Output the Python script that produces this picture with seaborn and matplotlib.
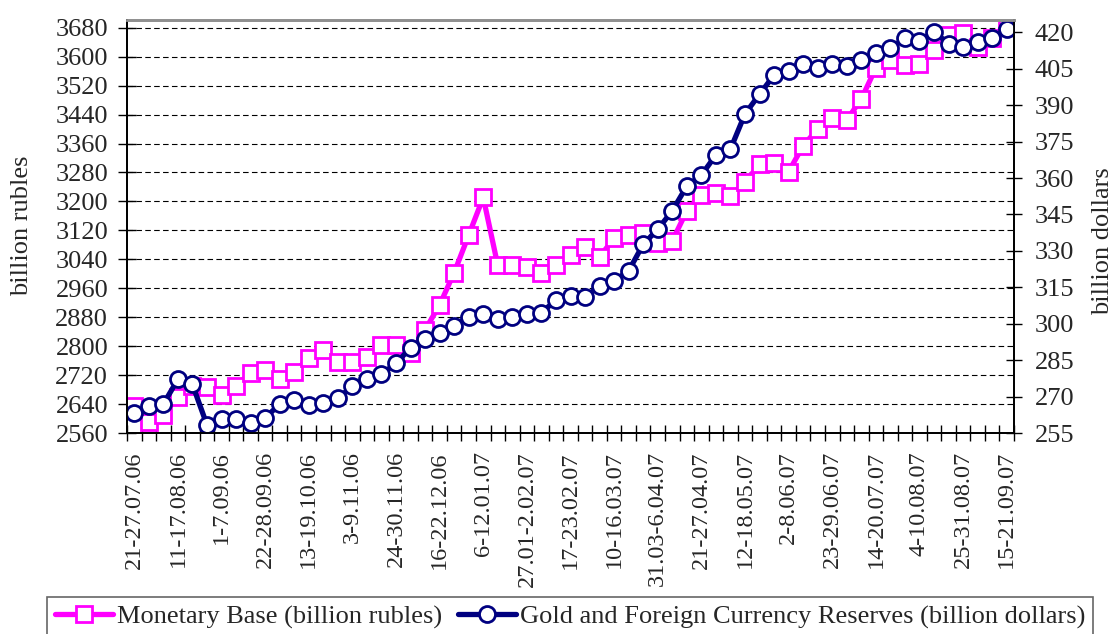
import matplotlib
matplotlib.use("Agg")
import numpy as np
import pandas as pd
import matplotlib.pyplot as plt
import seaborn as sns

# every third week is labelled on the axis
tick_labels = ["21-27.07.06", "11-17.08.06", "1-7.09.06", "22-28.09.06",
               "13-19.10.06", "3-9.11.06", "24-30.11.06", "16-22.12.06",
               "6-12.01.07", "27.01-2.02.07", "17-23.02.07", "10-16.03.07",
               "31.03-6.04.07", "21-27.04.07", "12-18.05.07", "2-8.06.07",
               "23-29.06.07", "14-20.07.07", "4-10.08.07", "25-31.08.07",
               "15-21.09.07"]

# billion rubles, weekly
monetary_base = [2635, 2591, 2610, 2660, 2690, 2688, 2665, 2691, 2725, 2734,
                 2709, 2729, 2766, 2789, 2757, 2757, 2769, 2803, 2803, 2780,
                 2845, 2914, 3003, 3107, 3211, 3023, 3024, 3018, 3001, 3023,
                 3052, 3075, 3047, 3098, 3106, 3114, 3084, 3091, 3174, 3219,
                 3222, 3215, 3253, 3302, 3305, 3282, 3354, 3400, 3430, 3425,
                 3483, 3569, 3591, 3577, 3579, 3618, 3660, 3665, 3626, 3651,
                 3692]

# billion dollars, weekly
reserves = [263.1, 266.1, 266.9, 277.1, 275.0, 258.3, 260.6, 260.6, 259.0, 261.3,
            266.8, 268.6, 266.5, 267.5, 269.3, 274.2, 277.1, 279.2, 283.7, 290.1,
            293.7, 296.0, 299.2, 302.9, 304.0, 301.8, 302.9, 303.9, 304.5, 309.8,
            311.4, 311.1, 315.4, 317.6, 321.8, 332.7, 338.9, 346.5, 356.7, 361.2,
            369.5, 371.9, 386.4, 394.5, 402.4, 404.1, 406.9, 405.2, 406.8, 406.1,
            408.6, 411.6, 413.4, 417.5, 416.5, 420.2, 415.4, 414.1, 416.1, 417.5,
            421.2]


def main():
    sns.set_theme(style="white")
    plt.rcParams["font.family"] = ["Liberation Serif", "DejaVu Serif"]

    df = pd.DataFrame({"week": np.arange(len(monetary_base)),
                       "base": monetary_base,
                       "reserves": reserves})

    W, H = 1113, 634
    fig = plt.figure(figsize=(W / 100, H / 100), dpi=100)
    ax = fig.add_axes([127 / W, 1 - 433 / H, 887 / W, 413.5 / H])
    ax2 = ax.twinx()

    sns.lineplot(data=df, x="week", y="base", ax=ax, color="#FF00FF",
                 linewidth=3.8, marker="s", markersize=11,
                 markerfacecolor="white", markeredgecolor="#FF00FF",
                 markeredgewidth=2, label="Monetary Base (billion rubles)",
                 legend=False)
    sns.lineplot(data=df, x="week", y="reserves", ax=ax2, color="#000080",
                 linewidth=3.8, marker="o", markersize=11.5,
                 markerfacecolor="white", markeredgecolor="#000080",
                 markeredgewidth=2,
                 label="Gold and Foreign Currency Reserves (billion dollars)",
                 legend=False)

    ax.set_xlim(-0.5, len(monetary_base) - 0.5)
    ax.set_ylim(2560, 3702.7)
    ax.set_yticks(range(2560, 3681, 80))
    ax2.set_ylim(255, 425.3)
    ax2.set_yticks(range(255, 421, 15))

    ax.set_xticks(range(0, len(monetary_base), 3))
    ax.set_xticklabels(tick_labels, rotation=90)
    ax.set_xticks(np.arange(-0.5, len(monetary_base), 1), minor=True)
    ax.tick_params(axis="x", which="major", length=0, pad=13, labelsize=17.5)
    ax.tick_params(axis="x", which="minor", bottom=True, direction="inout",
                   length=11, width=1, color="black")
    ax.tick_params(axis="y", left=True, direction="inout", length=13,
                   width=1, color="black", pad=7, labelsize=19)
    ax2.tick_params(axis="y", right=True, direction="inout", length=12,
                    width=1, color="black", pad=9, labelsize=19)

    ax.yaxis.grid(True, linestyle=(0, (5, 3)), color="black", linewidth=0.8)
    ax.xaxis.grid(False)
    ax2.grid(False)

    for a in (ax, ax2):
        for side in ("left", "right", "bottom"):
            a.spines[side].set_color("black")
            a.spines[side].set_linewidth(1.3)
        a.spines["top"].set_color("#909090")
        a.spines["top"].set_linewidth(2)

    ax.set_xlabel("")
    ax2.set_xlabel("")
    ax.set_ylabel("billion rubles", fontsize=19)
    ax.yaxis.set_label_coords(-0.106, 0.5)
    ax2.set_ylabel("billion dollars", fontsize=19)
    ax2.yaxis.set_label_coords(1.088, 0.465)

    h1, l1 = ax.get_legend_handles_labels()
    h2, l2 = ax2.get_legend_handles_labels()
    leg = fig.legend(h1 + h2, l1 + l2, loc="upper left",
                     bbox_to_anchor=(47 / W, 1 - 597 / H), ncol=2,
                     fontsize=19, frameon=True, fancybox=False,
                     edgecolor="#404040", handlelength=2.2,
                     handletextpad=0.15, columnspacing=0.6,
                     borderpad=0.3, borderaxespad=0)
    leg.get_frame().set_linewidth(1.2)

    fig.savefig("out.png", dpi=100)


if __name__ == "__main__":
    main()
